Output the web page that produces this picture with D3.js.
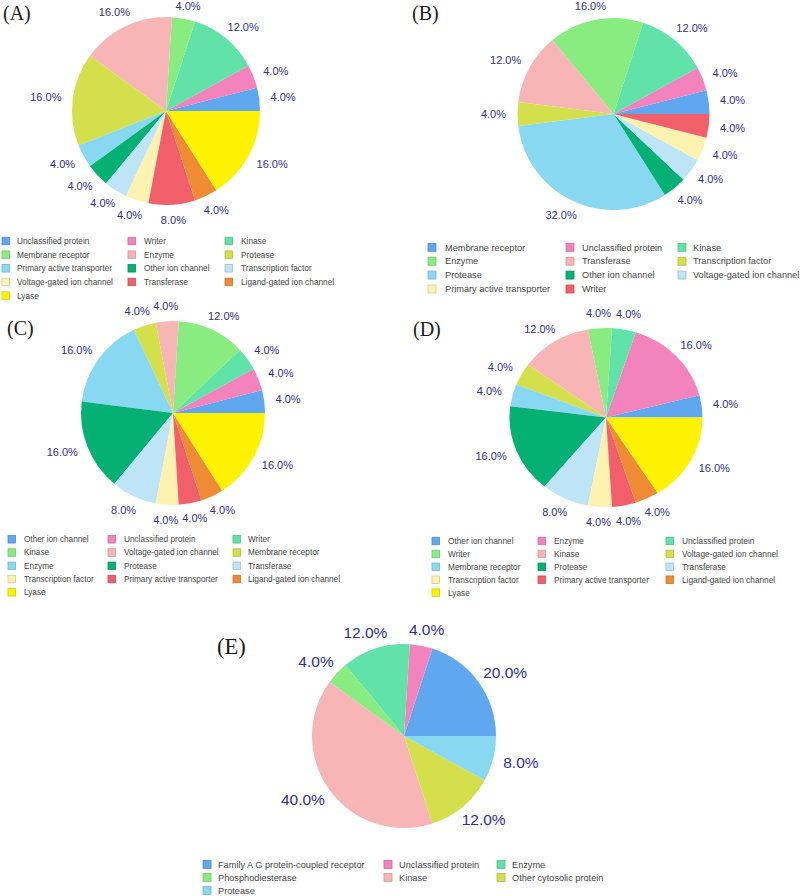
<!DOCTYPE html>
<html>
<head>
<meta charset="utf-8">
<script src="https://cdn.jsdelivr.net/npm/d3@7"></script>
<style>
  html, body { margin: 0; padding: 0; background: #ffffff; }
  svg { display: block; }
</style>
</head>
<body>
<svg id="chart" width="800" height="896"></svg>
<script>
// ---------- Data ----------
const palette = ["#5fa8f0", "#f283bd", "#61e2a9", "#88ec80", "#f7b5b5", "#d4e04b",
                 "#88d8f1", "#05b075", "#bee4f8", "#fdf2b0", "#f15f6a", "#ef8a35", "#fff200"];

const catsA = ["Unclassified protein", "Writer", "Kinase", "Membrane receptor", "Enzyme", "Protease",
  "Primary active transporter", "Other ion channel", "Transcription factor",
  "Voltage-gated ion channel", "Transferase", "Ligand-gated ion channel", "Lyase"];
const valsA = [4, 4, 12, 4, 16, 16, 4, 4, 4, 4, 8, 4, 16];

const catsB = ["Membrane receptor", "Unclassified protein", "Kinase", "Enzyme", "Transferase",
  "Transcription factor", "Protease", "Other ion channel", "Voltage-gated ion channel",
  "Primary active transporter", "Writer"];
const valsB = [4, 4, 12, 16, 12, 4, 32, 4, 4, 4, 4];

const catsC = ["Other ion channel", "Unclassified protein", "Writer", "Kinase", "Voltage-gated ion channel",
  "Membrane receptor", "Enzyme", "Protease", "Transferase", "Transcription factor",
  "Primary active transporter", "Ligand-gated ion channel", "Lyase"];
const valsC = [4, 4, 4, 12, 4, 4, 16, 16, 8, 4, 4, 4, 16];

const catsD = ["Other ion channel", "Enzyme", "Unclassified protein", "Writer", "Kinase",
  "Voltage-gated ion channel", "Membrane receptor", "Protease", "Transferase", "Transcription factor",
  "Primary active transporter", "Ligand-gated ion channel", "Lyase"];
const valsD = [4, 16, 4, 4, 12, 4, 4, 16, 8, 4, 4, 4, 16];

const catsE = ["Family A G protein-coupled receptor", "Unclassified protein", "Enzyme",
  "Phosphodiesterase", "Kinase", "Other cytosolic protein", "Protease"];
const valsE = [20, 4, 12, 4, 40, 12, 8];

// ---------- Layout ----------
const panels = [
  { tag: "(A)", cats: catsA, vals: valsA, cx: 166, cy: 111, r: 94, sy: 1, lab: [3, 20], labSize: 20,
    pctSize: 11, clampTop: 6,
    leg: { sw: [2, 128, 225], tx: [17, 144, 241], y0: 241, dy: 13.65, fs: 8.3, box: 7.5 } },
  { tag: "(B)", cats: catsB, vals: valsB, cx: 613.5, cy: 114, r: 96, sy: 1, lab: [412, 20], labSize: 20,
    pctSize: 11, clampTop: 6,
    leg: { sw: [428, 566, 678], tx: [445, 582, 693], y0: 247.3, dy: 13.9, fs: 9.2, box: 8 } },
  { tag: "(C)", cats: catsC, vals: valsC, cx: 173, cy: 413, r: 92, sy: 1, lab: [7, 335], labSize: 20,
    pctSize: 11, clampTop: 0,
    leg: { sw: [8, 108, 233], tx: [24, 124, 248], y0: 539.3, dy: 13.25, fs: 8.2, box: 7.5 } },
  { tag: "(D)", cats: catsD, vals: valsD, cx: 606, cy: 417.5, r: 96.5, sy: 0.928, lab: [413, 336], labSize: 20,
    pctSize: 11, clampTop: 0,
    leg: { sw: [432, 538, 666], tx: [448, 554, 682], y0: 541, dy: 12.9, fs: 8.3, box: 7.5 } },
  { tag: "(E)", cats: catsE, vals: valsE, cx: 404, cy: 736, r: 92, sy: 1, lab: [217, 654], labSize: 22.5,
    pctSize: 15.5, clampTop: 0,
    leg: { sw: [203, 384, 497], tx: [218, 399, 512], y0: 864.5, dy: 13, fs: 9.2, box: 8 } }
];

const svg = d3.select("#chart");

const pie = d3.pie().sort(null).value(d => d)
  .startAngle(Math.PI / 2).endAngle(Math.PI / 2 - 2 * Math.PI);

panels.forEach(p => {
  const color = d3.scaleOrdinal().domain(p.cats).range(palette);
  const arcs = pie(p.vals);
  const arc = d3.arc().innerRadius(0).outerRadius(p.r);

  const g = svg.append("g");

  // slices
  g.append("g")
    .attr("transform", `translate(${p.cx},${p.cy}) scale(1,${p.sy})`)
    .selectAll("path")
    .data(arcs)
    .join("path")
    .attr("d", arc)
    .attr("fill", (d, i) => color(p.cats[i]));

  // percentage labels
  const total = d3.sum(p.vals);
  const off = p.pctSize > 12 ? 11 : 11.5;
  g.append("g").selectAll("text")
    .data(arcs)
    .join("text")
    .attr("font-family", "'Liberation Sans', Arial, sans-serif")
    .attr("font-size", p.pctSize)
    .attr("fill", "#2e2e96")
    .attr("text-anchor", "middle")
    .attr("dy", "0.35em")
    .text(d => (d.value / total * 100).toFixed(1) + "%")
    .each(function (d) {
      const m = (d.startAngle + d.endAngle) / 2;
      const sx = Math.sin(m), syv = -Math.cos(m);
      const w = this.getComputedTextLength();
      const h = p.pctSize * 0.72;
      let x = p.cx + sx * (p.r + off) + sx * w / 2;
      let y = p.cy + syv * (p.r * p.sy + off) + syv * h / 2;
      if (y < p.clampTop) y = p.clampTop;
      d3.select(this).attr("x", x).attr("y", y);
    });

  // panel tag
  g.append("text")
    .attr("x", p.lab[0]).attr("y", p.lab[1])
    .attr("font-family", "'Liberation Serif', 'Times New Roman', serif")
    .attr("font-size", p.labSize)
    .attr("fill", "#1a1a1a")
    .text(p.tag);

  // legend
  const L = p.leg;
  const items = g.append("g").selectAll("g")
    .data(p.cats)
    .join("g")
    .attr("transform", (c, i) => `translate(0,${L.y0 + Math.floor(i / 3) * L.dy})`);
  items.append("rect")
    .attr("x", (c, i) => L.sw[i % 3])
    .attr("y", -L.box / 2)
    .attr("width", L.box).attr("height", L.box)
    .attr("fill", c => color(c))
    .attr("stroke", c => d3.color(color(c)).darker(0.5))
    .attr("stroke-width", 0.8);
  items.append("text")
    .attr("x", (c, i) => L.tx[i % 3])
    .attr("dy", "0.35em")
    .attr("font-family", "'Liberation Sans', Arial, sans-serif")
    .attr("font-size", L.fs)
    .attr("fill", "#444")
    .text(c => c);
});
</script>
</body>
</html>
